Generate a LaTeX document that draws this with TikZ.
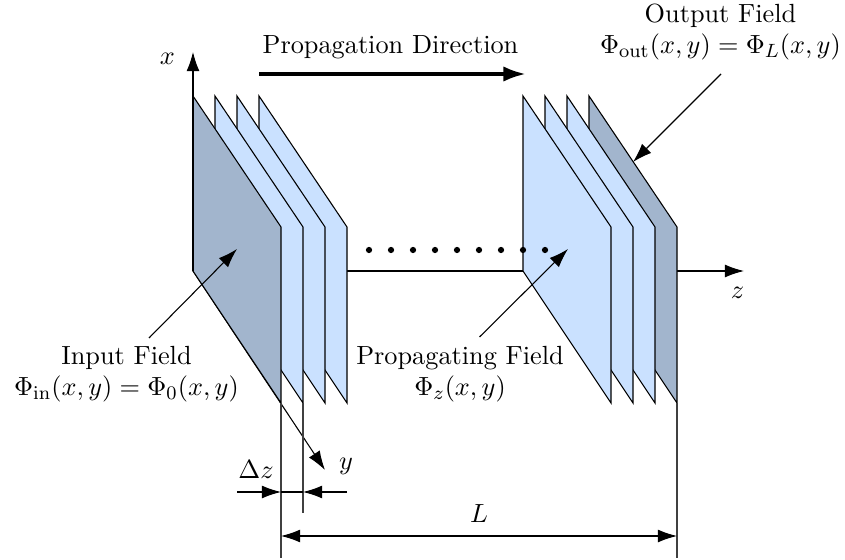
\documentclass[tikz,border=0pt,11pt]{standalone}
\usetikzlibrary{arrows.meta}
\definecolor{plateLight}{RGB}{202,225,255}
\definecolor{plateDark}{RGB}{162,181,205}
\tikzset{
  px/.style={x=0.4167pt,y=-0.4167pt},
  tip/.style={-{Latex[length=8pt,width=5.4pt]}},
  bigtip/.style={-{Latex[length=9.2pt,width=6.4pt]}},
  line/.style={line width=0.45pt,line join=miter},
  plateshape/.style={draw=black,line width=0.45pt},
  label/.style={inner sep=0pt,outer sep=0pt,align=center},
  dimline/.style={line width=0.45pt,black!75},
  dotmark/.style={circle,fill=black,inner sep=0pt,minimum size=2.6pt}
}
\newcommand{\plate}[2]{%
  \path[plateshape,fill=#2] (#1,96) -- (#1+88,227) -- (#1+88,403) -- (#1,271) -- cycle;}
\begin{document}
\begin{tikzpicture}[px]
\useasboundingbox (0,0) rectangle (845,560);
% reference points
\coordinate (o) at (193,271);
\coordinate (xbase) at (193,96);
\coordinate (xend) at (193,52);
\coordinate (yend) at (325,470);
\coordinate (zin) at (347,271);
\coordinate (zout) at (523,271);
\coordinate (zstart) at (677,271);
\coordinate (zend) at (744,271);
% axes behind the plates
\draw[line,tip] (o) -- (yend);
\draw[line] (zin) -- (zout);
\draw[line,tip] (zstart) -- (zend);
% left stack
\plate{259}{plateLight}
\plate{237}{plateLight}
\plate{215}{plateLight}
\plate{193}{plateDark}
% right stack
\plate{589}{plateDark}
\plate{567}{plateLight}
\plate{545}{plateLight}
\plate{523}{plateLight}
\draw[line,tip] (o) -- (xend);
% dots
\foreach \i [count=\n] in {369,391,...,545}
  \node[dotmark] (dot\n) at (\i,250) {};
% labels
\node[label] (xlabel) at (167.5,59) {$x$};
\node[label] (ylabel) at (346,466) {$y$};
\node[label] (zlabel) at (737.5,293) {$z$};
\node[label] (proplabel) at (390.5,47.5) {Propagation Direction};
\node[label] (inputlabel) at (126.5,374) {Input Field\\[-0.6pt]$\Phi_{\mathrm{in}}(x,y)=\Phi_0(x,y)$};
\node[label] (outputlabel) at (720.5,32) {Output Field\\[-0.6pt]$\Phi_{\mathrm{out}}(x,y)=\Phi_L(x,y)$};
\node[label] (fieldlabel) at (460,374.5) {Propagating Field\\[-0.6pt]$\Phi_z(x,y)$};
\node[label] (dzlabel) at (256,469.5) {$\Delta z$};
\node[label] (llabel) at (479,514) {$L$};
% propagation arrow
\coordinate (pa) at (259,74);
\coordinate (pb) at (525.5,74);
\draw[line width=1.3pt,bigtip] (pa) -- (pb);
% pointer arrows
\coordinate (ia) at (149,338);
\coordinate (ib) at (237,249);
\coordinate (oa) at (721,74);
\coordinate (ob) at (633,162);
\coordinate (fa) at (479.5,337);
\coordinate (fb) at (568,249);
\draw[line,tip] (ia) -- (ib);
\draw[line,tip] (oa) -- (ob);
\draw[line,tip] (fa) -- (fb);
% dimension lines
\coordinate (d1t) at (281,403); \coordinate (d1b) at (281,558);
\coordinate (d2t) at (303,403); \coordinate (d2b) at (303,513);
\coordinate (d3t) at (677,403); \coordinate (d3b) at (677,558);
\draw[dimline] (d1t) -- (d1b);
\draw[dimline] (d2t) -- (d2b);
\draw[dimline] (d3t) -- (d3b);
\coordinate (dzl) at (237,492); \coordinate (dza) at (281,492);
\coordinate (dzr) at (347,492); \coordinate (dzb) at (303,492);
\draw[line,tip] (dzl) -- (dza);
\draw[line,tip] (dzr) -- (dzb);
\draw[line] (dza) -- (dzb);
\coordinate (la) at (281,536); \coordinate (lb) at (677,536);
\draw[line,{Latex[length=8pt,width=5.4pt]}-{Latex[length=8pt,width=5.4pt]}] (la) -- (lb);
\end{tikzpicture}
\end{document}
